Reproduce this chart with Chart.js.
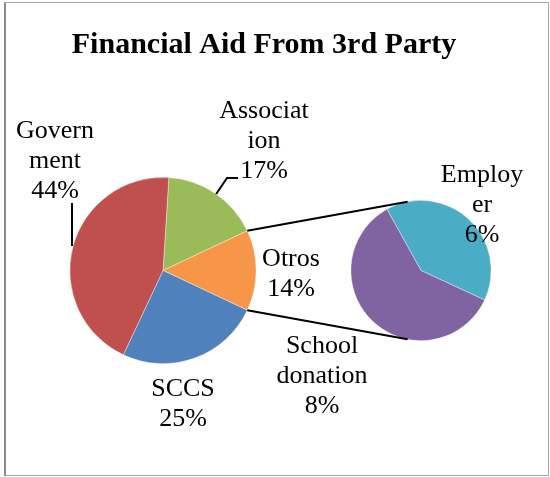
<!DOCTYPE html>
<html>
<head>
<meta charset="utf-8">
<script src="https://cdn.jsdelivr.net/npm/chart.js@4.4.1/dist/chart.umd.min.js"></script>
<style>
  body { margin: 0; background: #fff; }
  #frame { position: absolute; left: 4px; top: 2px; width: 542px; height: 472px;
           border: 1px solid #a6a6a6; border-left: 2px solid #8c8c8c; }
  canvas { position: absolute; left: 0; top: 0; }
</style>
</head>
<body>
<div id="frame"></div>
<canvas id="mainPie" width="550" height="477"></canvas>
<canvas id="subPie" width="550" height="477"></canvas>
<script>
// main pie
const mainCategories = ['Association', 'Otros', 'SCCS', 'Government'];
const mainValues = [17, 14, 25, 44];
const mainLabelLines = [['Associat', 'ion'], ['Otros'], ['SCCS'], ['Govern', 'ment']];
const mainColors = ['#9BBB59', '#F79646', '#4F81BD', '#C0504D'];

// second pie (breaks down "Otros")
const subCategories = ['Employer', 'School donation'];
const subValues = [5.6, 8.4];
const subLabelLines = [['Employ', 'er'], ['School', 'donation']];
const subColors = ['#4BACC6', '#8064A2'];

const titleText = 'Financial Aid From 3rd Party';
const total = mainValues.reduce((a, b) => a + b, 0);

function pct(v) {
    return Math.round(v / total * 100) + '%';
}

// label placement: center x, first baseline y, optional leader (angle on pie edge)
const mainLabelPos = [
    { x: 264, y: 118, leader: [[238, 178], [227, 178]], edgeAngle: 34.8 },
    { x: 291, y: 266 },
    { x: 183, y: 396 },
    { x: 55, y: 138, leader: [[72, 203]], edgeAngle: 285.2, vertical: true }
];
const subLabelPos = [
    { x: 482, y: 182 },
    { x: 322, y: 353 }
];

function pointOnArc(arc, deg) {
    const a = (deg - 90) * Math.PI / 180;
    return [arc.x + Math.cos(a) * arc.outerRadius, arc.y + Math.sin(a) * arc.outerRadius];
}

function drawLabels(ctx, lines, values, pos) {
    ctx.save();
    ctx.font = '26px "Liberation Serif", "Times New Roman", serif';
    ctx.fillStyle = '#000';
    ctx.textAlign = 'center';
    ctx.textBaseline = 'alphabetic';
    for (let i = 0; i < lines.length; i++) {
        const all = lines[i].concat([pct(values[i])]);
        for (let j = 0; j < all.length; j++) {
            ctx.fillText(all[j], pos[i].x, pos[i].y + j * 30);
        }
    }
    ctx.restore();
}

const mainPlugin = {
    id: 'mainExtras',
    afterDraw(chart) {
        const ctx = chart.ctx;
        ctx.save();
        ctx.font = 'bold 30px "Liberation Serif", "Times New Roman", serif';
        ctx.fillStyle = '#000';
        ctx.textAlign = 'center';
        ctx.fillText(titleText, 264, 53);
        ctx.restore();

        drawLabels(ctx, mainLabelLines, mainValues, mainLabelPos);

        // leader lines
        const arc = chart.getDatasetMeta(0).data[0];
        ctx.save();
        ctx.strokeStyle = '#000';
        ctx.lineWidth = 2;
        mainLabelPos.forEach(p => {
            if (!p.leader) return;
            let end = pointOnArc(arc, p.edgeAngle);
            if (p.vertical) end = [p.leader[0][0], end[1]];
            ctx.beginPath();
            ctx.moveTo(p.leader[0][0], p.leader[0][1]);
            for (let k = 1; k < p.leader.length; k++) ctx.lineTo(p.leader[k][0], p.leader[k][1]);
            ctx.lineTo(end[0], end[1]);
            ctx.stroke();
        });
        ctx.restore();
    }
};

const mainChart = new Chart(document.getElementById('mainPie'), {
    type: 'pie',
    data: {
        labels: mainCategories,
        datasets: [{
            data: mainValues,
            backgroundColor: mainColors,
            borderColor: 'rgba(255,255,255,0.5)',
            borderWidth: 0.75
        }]
    },
    options: {
        responsive: false,
        animation: false,
        rotation: 3.6,
        layout: { padding: { left: 69.5, right: 293.5, top: 177, bottom: 113 } },
        plugins: { legend: { display: false }, tooltip: { enabled: false }, title: { display: false } }
    },
    plugins: [mainPlugin]
});

const subPlugin = {
    id: 'subExtras',
    afterDraw(chart) {
        const ctx = chart.ctx;
        drawLabels(ctx, subLabelLines, subValues, subLabelPos);

        // connector lines from the "Otros" slice to the second pie
        const otros = mainChart.getDatasetMeta(0).data[mainCategories.indexOf('Otros')];
        const sub = chart.getDatasetMeta(0).data[0];
        const a0 = otros.startAngle, a1 = otros.endAngle;
        const p0 = [otros.x + Math.cos(a0) * otros.outerRadius, otros.y + Math.sin(a0) * otros.outerRadius];
        const p1 = [otros.x + Math.cos(a1) * otros.outerRadius, otros.y + Math.sin(a1) * otros.outerRadius];
        const q0 = pointOnArc(sub, -11);
        const q1 = pointOnArc(sub, 191);
        ctx.save();
        ctx.strokeStyle = '#000';
        ctx.lineWidth = 2;
        ctx.beginPath();
        ctx.moveTo(p0[0], p0[1]);
        ctx.lineTo(q0[0], q0[1]);
        ctx.moveTo(p1[0], p1[1]);
        ctx.lineTo(q1[0], q1[1]);
        ctx.stroke();
        ctx.restore();
    }
};

new Chart(document.getElementById('subPie'), {
    type: 'pie',
    data: {
        labels: subCategories,
        datasets: [{
            data: subValues,
            backgroundColor: subColors,
            borderColor: 'rgba(255,255,255,0.5)',
            borderWidth: 0.75
        }]
    },
    options: {
        responsive: false,
        animation: false,
        rotation: -29.1,
        layout: { padding: { left: 350.5, right: 58.5, top: 200, bottom: 136 } },
        plugins: { legend: { display: false }, tooltip: { enabled: false }, title: { display: false } }
    },
    plugins: [subPlugin]
});
</script>
</body>
</html>
